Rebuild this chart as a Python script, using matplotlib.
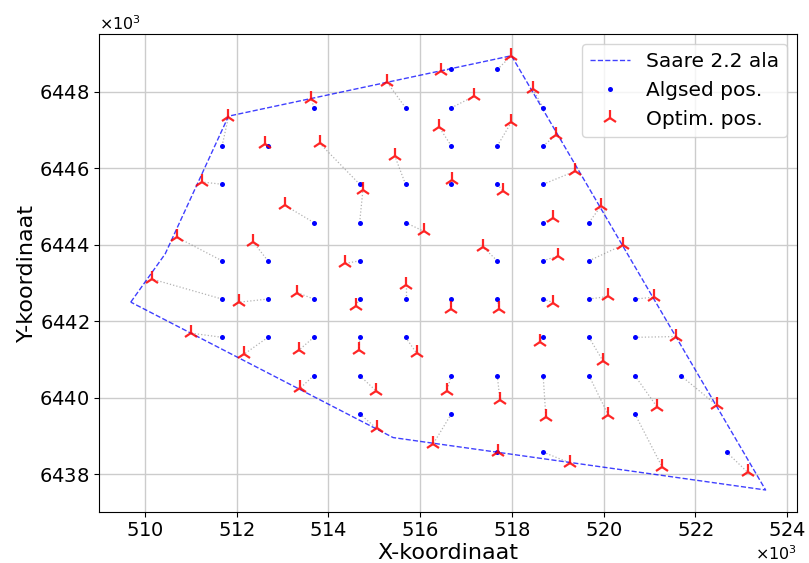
import matplotlib
matplotlib.use("Agg")
import matplotlib.pyplot as plt

# Site boundary (closed polygon), metres
boundary_x = [509690, 510440, 511820, 517990, 523530, 515410, 509690]
boundary_y = [6442500, 6443760, 6447360, 6448940, 6437590, 6438960, 6442500]

# Initial turbine positions
init_x = [513680, 511680, 512680, 514680, 511680, 513680, 511680, 512680,
          516680, 517680, 515680, 516680, 518680, 516680, 517680, 518680,
          515680, 516680, 517680, 518680, 514680, 515680, 518680, 519680,
          514680, 517680, 518680, 519680, 511680, 512680, 513680, 511680,
          512680, 513680, 513680, 514680, 515680, 516680, 517680, 518680,
          519680, 514680, 515680, 518680, 519680, 514680, 516680, 517680,
          518680, 519680, 514680, 516680, 518680, 517680, 520680, 520680,
          520680, 521680, 520680, 522680]
init_y = [6447580, 6446580, 6446580, 6445580, 6445580, 6444580, 6443580, 6443580,
          6448580, 6448580, 6447580, 6447580, 6447580, 6446580, 6446580, 6446580,
          6445580, 6445580, 6445580, 6445580, 6444580, 6444580, 6444580, 6444580,
          6443580, 6443580, 6443580, 6443580, 6442580, 6442580, 6442580, 6441580,
          6441580, 6441580, 6440580, 6442580, 6442580, 6442580, 6442580, 6442580,
          6442580, 6441580, 6441580, 6441580, 6441580, 6440580, 6440580, 6440580,
          6440580, 6440580, 6439580, 6439580, 6438580, 6438580, 6442580, 6441580,
          6440580, 6440580, 6439580, 6438580]

# Optimised turbine positions (same order as the initial ones)
opt_x = [513630, 511820, 512620, 513810, 511240, 513050, 510690, 512360,
         516450, 517980, 515270, 517170, 518450, 516410, 517990, 518970,
         515450, 516700, 517810, 519370, 514750, 516080, 518900, 519940,
         514360, 517370, 519010, 520430, 510160, 512060, 513320, 511000,
         512160, 513360, 513380, 514590, 515680, 516670, 517720, 518900,
         520100, 514670, 515920, 518610, 519980, 515030, 516580, 517740,
         518740, 520100, 515050, 516280, 519260, 517690, 521100, 521570,
         521170, 522460, 521280, 523140]
opt_y = [6447820, 6447340, 6446640, 6446650, 6445640, 6445030, 6444200, 6444070,
         6448550, 6448930, 6448260, 6447880, 6448080, 6447080, 6447210, 6446880,
         6446310, 6445700, 6445400, 6445920, 6445420, 6444350, 6444700, 6445010,
         6443510, 6443940, 6443710, 6444000, 6443100, 6442500, 6442750, 6441690,
         6441140, 6441250, 6440250, 6442410, 6442960, 6442320, 6442320, 6442490,
         6442650, 6441250, 6441170, 6441460, 6440970, 6440190, 6440190, 6439930,
         6439490, 6439550, 6439200, 6438790, 6438300, 6438570, 6442630, 6441600,
         6439750, 6439810, 6438180, 6438050]

fig = plt.figure(figsize=(8.09, 5.63), dpi=100)
ax = fig.add_axes([0.1224, 0.0911, 0.8632, 0.8485])

ax.plot(boundary_x, boundary_y, color="blue", linestyle="--", linewidth=1.0,
        alpha=0.75, label="Saare 2.2 ala", zorder=3)

# Movement of each turbine
for x0, y0, x1, y1 in zip(init_x, init_y, opt_x, opt_y):
    ax.plot([x0, x1], [y0, y1], color="gray", linestyle=":", linewidth=0.9,
            alpha=0.6, zorder=2)

ax.plot(init_x, init_y, linestyle="none", marker="o", markersize=3.6,
        markeredgewidth=0, color="blue", label="Algsed pos.", zorder=4)
ax.plot(opt_x, opt_y, linestyle="none", marker="2", markersize=11,
        markeredgewidth=1.6, color="red", alpha=0.85, label="Optim. pos.",
        zorder=5)

ax.set_xticks(range(510000, 524001, 2000))
ax.set_yticks(range(6438000, 6448001, 2000))
ax.ticklabel_format(style="sci", axis="both", scilimits=(3, 3),
                    useOffset=False, useMathText=True)
ax.tick_params(labelsize=14)
ax.xaxis.get_offset_text().set_fontsize(11.5)
ax.yaxis.get_offset_text().set_fontsize(11.5)

ax.grid(True, color="#cccccc", linewidth=1.0)
ax.set_axisbelow(True)

ax.set_xlabel("X-koordinaat", fontsize=16, labelpad=2)
ax.set_ylabel("Y-koordinaat", fontsize=16, labelpad=1)

ax.legend(loc="upper right", fontsize=14.5)

fig.savefig("out.png", dpi=100)
